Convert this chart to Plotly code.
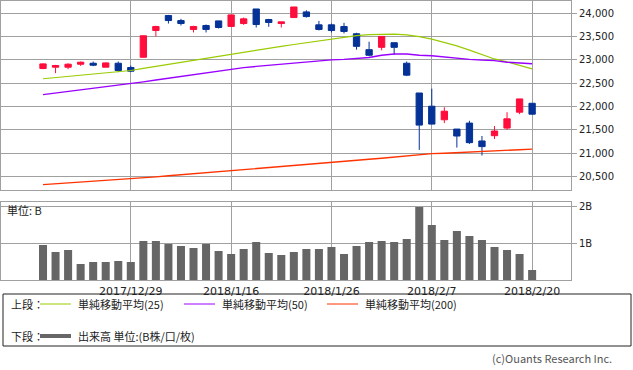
import plotly.graph_objects as go

dates = ["2017/12/20", "2017/12/21", "2017/12/22", "2017/12/25", "2017/12/26", "2017/12/27",
         "2017/12/28", "2017/12/29", "2018/1/4", "2018/1/5", "2018/1/9", "2018/1/10",
         "2018/1/11", "2018/1/12", "2018/1/15", "2018/1/16", "2018/1/17", "2018/1/18",
         "2018/1/19", "2018/1/22", "2018/1/23", "2018/1/24", "2018/1/25", "2018/1/26",
         "2018/1/29", "2018/1/30", "2018/1/31", "2018/2/1", "2018/2/2", "2018/2/5",
         "2018/2/6", "2018/2/7", "2018/2/8", "2018/2/9", "2018/2/13", "2018/2/14",
         "2018/2/15", "2018/2/16", "2018/2/19", "2018/2/20"]

open_ = [22815, 22843, 22843, 22907, 22928, 22843, 22928, 22836, 23056, 23630,
         23950, 23843, 23652, 23737, 23836, 23716, 23779, 24091, 23865, 23779,
         23907, 24028, 23751, 23751, 23716, 23560, 23219, 23269, 23368, 22928,
         22290, 22007, 21716, 21517, 21645, 21262, 21375, 21538, 21879, 22070]
close = [22914, 22879, 22907, 22950, 22886, 22935, 22772, 22758, 23517, 23716,
         23843, 23779, 23716, 23652, 23694, 23964, 23879, 23758, 23801, 23815,
         24134, 23928, 23652, 23631, 23609, 23290, 23099, 23503, 23269, 22673,
         21602, 21623, 21900, 21368, 21226, 21141, 21475, 21737, 22163, 21836]
high = [22928, 22893, 22928, 22964, 22964, 22943, 22964, 22879, 23520, 23730,
        23964, 23879, 23730, 23758, 23836, 23964, 23907, 24091, 23879, 23815,
        24134, 24063, 23836, 23779, 23794, 23581, 23389, 23503, 23368, 22964,
        22290, 22382, 21985, 21517, 21694, 21368, 21581, 21879, 22163, 22070]
low = [22801, 22716, 22801, 22872, 22865, 22843, 22737, 22737, 23050, 23503,
       23779, 23737, 23588, 23588, 23673, 23716, 23751, 23694, 23709, 23694,
       23907, 23907, 23631, 23588, 23567, 23219, 23077, 23205, 23106, 22652,
       21070, 21623, 21645, 21120, 21198, 20950, 21304, 21503, 21836, 21836]

ma25 = [22595, 22620, 22645, 22670, 22695, 22720, 22745, 22772, 22816, 22860,
        22905, 22950, 22994, 23038, 23083, 23127, 23168, 23208, 23249, 23290,
        23330, 23371, 23412, 23450, 23495, 23520, 23540, 23550, 23553, 23535,
        23500, 23445, 23375, 23300, 23210, 23110, 23020, 22960, 22880, 22808]
ma50 = [22255, 22288, 22322, 22355, 22389, 22422, 22456, 22489, 22529, 22569,
        22609, 22649, 22689, 22729, 22768, 22808, 22834, 22860, 22886, 22912,
        22938, 22964, 22990, 23000, 23010, 23035, 23050, 23100, 23125, 23127,
        23100, 23090, 23060, 23035, 23010, 22995, 22985, 22950, 22940, 22918]
ma200 = [20326, 20343, 20360, 20377, 20394, 20411, 20428, 20446, 20469, 20492,
         20515, 20538, 20561, 20584, 20607, 20630, 20652, 20674, 20696, 20718,
         20740, 20762, 20784, 20805, 20825, 20850, 20870, 20890, 20915, 20935,
         20970, 20990, 21000, 21010, 21020, 21045, 21050, 21065, 21075, 21088]

volume = [0.954, 0.765, 0.819, 0.44, 0.495, 0.495, 0.52, 0.495, 1.062, 1.062,
          0.98, 0.927, 0.873, 0.98, 0.792, 0.71, 0.846, 1.035, 0.738, 0.684,
          0.765, 0.846, 0.846, 0.9, 0.71, 0.927, 1.035, 1.062, 1.035, 1.116,
          1.98, 1.495, 1.089, 1.332, 1.197, 1.089, 0.9, 0.819, 0.71, 0.278]

x_tick_vals = ["2017/12/29", "2018/1/16", "2018/1/26", "2018/2/7", "2018/2/20"]
price_ticks = [20500, 21000, 21500, 22000, 22500, 23000, 23500, 24000]
vol_ticks = [1, 2]
vol_tick_text = ["1B", "2B"]

W, H = 633, 370
ML, MR, MT, MB = 1, 62, 1, 0


def px(x):
    return (x - ML) / (W - ML - MR)


def py(y):
    return (H - MB - y) / (H - MT - MB)


RED = "#ff0d3c"
BLUE = "#053296"
GRID = "#a0a0a0"
FONT = "Noto Sans CJK JP"

fig = go.Figure()
fig.add_trace(go.Candlestick(
    x=dates, open=open_, high=high, low=low, close=close,
    increasing=dict(line=dict(color=RED, width=1), fillcolor=RED),
    decreasing=dict(line=dict(color=BLUE, width=1), fillcolor=BLUE),
    whiskerwidth=0, xaxis="x", yaxis="y", showlegend=False, hoverinfo="skip"))
fig.add_trace(go.Scatter(x=dates, y=ma25, mode="lines", line=dict(color="#99cc00", width=1.2),
                         xaxis="x", yaxis="y", showlegend=False))
fig.add_trace(go.Scatter(x=dates, y=ma50, mode="lines", line=dict(color="#9a00ff", width=1.4),
                         xaxis="x", yaxis="y", showlegend=False))
fig.add_trace(go.Scatter(x=dates, y=ma200, mode="lines", line=dict(color="#ff3300", width=1.4),
                         xaxis="x", yaxis="y", showlegend=False))
fig.add_trace(go.Bar(x=dates, y=volume, marker=dict(color="#666666", line=dict(width=0)),
                     width=0.64, xaxis="x2", yaxis="y2", showlegend=False))

xr = [-3.35, 42.1]
axis_common = dict(showline=True, linecolor=GRID, linewidth=1, mirror=True,
                   showgrid=True, gridcolor=GRID, gridwidth=1, zeroline=False)

fig.update_layout(
    width=W, height=H, margin=dict(l=ML, r=MR, t=MT, b=MB),
    paper_bgcolor="white", plot_bgcolor="white",
    font=dict(family=FONT, size=11, color="#222"),
    boxgap=0.28,
    bargap=0.3,
    xaxis=dict(type="category", categoryorder="array", categoryarray=dates, range=xr,
               domain=[0, 1], anchor="y", tickvals=x_tick_vals, showticklabels=False,
               rangeslider=dict(visible=False), ticks="", **axis_common),
    yaxis=dict(domain=[py(190), 1], anchor="x", range=[20211, 24262], side="right",
               tickvals=price_ticks, tickformat=",d", ticks="outside", ticklen=5, tickcolor=GRID,
               tickfont=dict(family="DejaVu Sans", size=10, color="#222"), **axis_common),
    xaxis2=dict(type="category", categoryorder="array", categoryarray=dates, range=xr,
                domain=[0, 1], anchor="y2", tickvals=x_tick_vals, ticktext=x_tick_vals, ticks="",
                tickfont=dict(family="DejaVu Sans", size=11, color="#222"), **axis_common),
    yaxis2=dict(domain=[py(280.3), py(202)], anchor="x2", range=[0, 2.115], side="right",
                tickvals=vol_ticks, ticktext=vol_tick_text, ticks="outside", ticklen=5, tickcolor=GRID,
                tickfont=dict(family="DejaVu Sans", size=10, color="#222"), **axis_common),
)

shapes = [
    dict(type="rect", xref="paper", yref="paper", x0=px(3), x1=px(631), y0=py(346), y1=py(294),
         line=dict(color="#222", width=1), fillcolor="rgba(0,0,0,0)"),
    dict(type="line", xref="paper", yref="paper", x0=px(40), x1=px(71), y0=py(304), y1=py(304),
         line=dict(color="#99cc00", width=1)),
    dict(type="line", xref="paper", yref="paper", x0=px(184), x1=px(215), y0=py(304), y1=py(304),
         line=dict(color="#9a00ff", width=1)),
    dict(type="line", xref="paper", yref="paper", x0=px(327), x1=px(358), y0=py(304), y1=py(304),
         line=dict(color="#ff3300", width=1)),
    dict(type="line", xref="paper", yref="paper", x0=px(40), x1=px(71), y0=py(336), y1=py(336),
         line=dict(color="#666666", width=4)),
]
fig.update_layout(shapes=shapes)

ann = [
    (9, 304, "上段："), (76, 304, "単純移動平均(25)"), (220, 304, "単純移動平均(50)"),
    (363, 304, "単純移動平均(200)"), (9, 336, "下段："), (76, 336, "出来高 単位:(B株/口/枚)"),
    (5, 210, "単位: B"),
]
for x, y, t in ann:
    fig.add_annotation(xref="paper", yref="paper", x=px(x), y=py(y), text=t, showarrow=False,
                       xanchor="left", yanchor="middle", font=dict(family=FONT, size=11, color="#222"))
fig.add_annotation(xref="paper", yref="paper", x=px(614), y=py(358), text="(c)Ouants Research Inc.",
                   showarrow=False, xanchor="right", yanchor="middle",
                   font=dict(family=FONT, size=11, color="#555"))

fig.write_html("out.html", config={"displayModeBar": False},
               post_script="document.body.style.margin='0';document.body.style.overflow='hidden';")
